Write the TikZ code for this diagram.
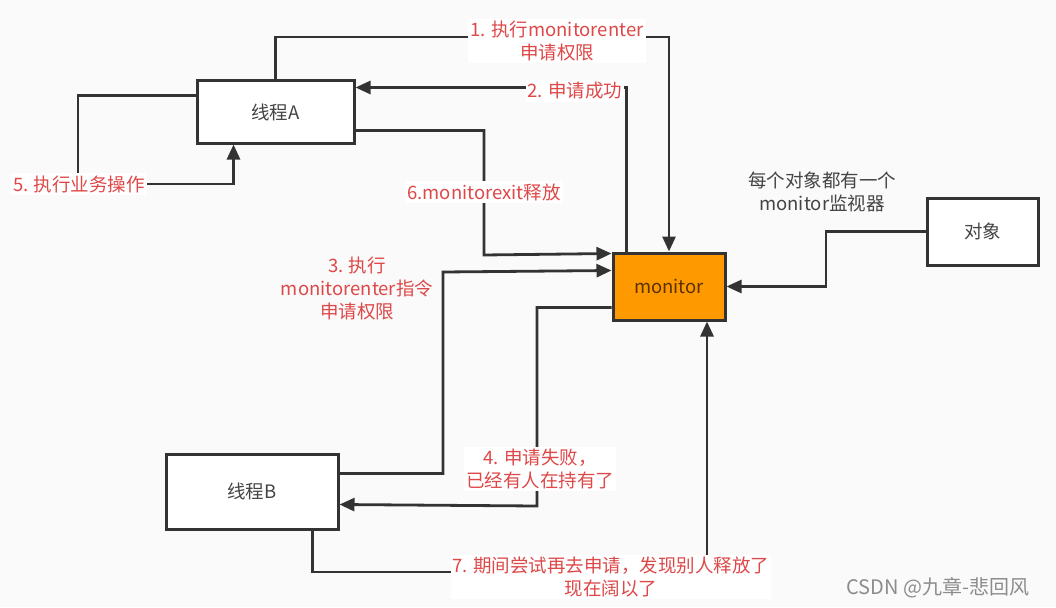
\documentclass[tikz,border=0pt]{standalone}
\usepackage{fontspec}
\setmainfont{Noto Sans CJK SC}
\usetikzlibrary{arrows.meta}
\definecolor{bg}{RGB}{250,250,250}
\definecolor{lred}{RGB}{222,72,72}
\definecolor{lineC}{RGB}{51,51,51}
\definecolor{boxtxt}{RGB}{68,68,68}
\definecolor{morange}{RGB}{255,153,0}
\definecolor{mtxt}{RGB}{90,50,0}
\definecolor{wm}{RGB}{140,140,140}
\tikzset{
  box/.style={draw=lineC,line width=3pt,fill=white,text=boxtxt,font=\fontsize{18.5}{22}\selectfont,inner sep=0pt},
  conn/.style={draw=lineC,line width=2.8pt,-{Triangle[length=15pt,width=13pt]}},
  lab/.style={text=lred,font=\fontsize{18.5}{23}\selectfont,align=center,inner sep=2pt},
  wlab/.style={lab,fill=white},
}
\begin{document}
\begin{tikzpicture}[x=1pt,y=-1pt]
\fill[bg] (0,0) rectangle (1056,607);
\useasboundingbox (0,0) rectangle (1056,607);
% nodes
\node[box,minimum width=157pt,minimum height=62pt] (A) at (275.5,112) {线程A};
\node[box,minimum width=172pt,minimum height=75pt] (B) at (252,491.5) {线程B};
\node[box,fill=morange,text=mtxt,minimum width=112pt,minimum height=67pt] (M) at (669,286.5) {monitor};
\node[box,minimum width=111pt,minimum height=67pt] (O) at (982.5,231.5) {对象};
% turning points
\coordinate (t1) at (669,37);
\coordinate (t6) at (484,255);
\coordinate (t5) at (78,184);
\coordinate (t3) at (443,272);
\coordinate (t4) at (537,506);
\coordinate (t7) at (707,572);
\coordinate (t8) at (826,259);
% connectors
\draw[conn] (A.north) |- (t1) -- (M.north);
\draw[conn] ([xshift=15pt]M.north west) |- ([yshift=-8pt]A.north east);
\draw[conn] ([yshift=14pt]A.south east) -| (t6) -- ([yshift=-2pt]M.north west);
\draw[conn] ([yshift=-16pt]A.north west) -| (t5) -| ([xshift=38pt]A.south west);
\draw[conn] ([yshift=-21pt]B.north east) -| (t3) -- ([yshift=-19pt]M.north west);
\draw[conn] ([yshift=14pt]M.south west) -| (t4) -- ([yshift=-52pt]B.north east);
\draw[conn] ([xshift=-27pt]B.south east) |- (t7) -- ([xshift=38pt]M.south);
\draw[conn] (O.west) -| (t8) |- (M.east);
% labels
\node[wlab] (l1) at (557,41) {1. 执行monitorenter\\申请权限};
\node[wlab] (l2) at (575,91) {2. 申请成功};
\node[wlab] (l6) at (484,192) {6.monitorexit释放};
\node[wlab] (l5) at (79,184) {5. 执行业务操作};
\node[lab] (l3) at (357,289) {3. 执行\\monitorenter指令\\申请权限};
\node[wlab] (l4) at (540,469) {4. 申请失败，\\已经有人在持有了};
\node[wlab] (l7) at (611,577) {7. 期间尝试再去申请，发现别人释放了\\现在阔以了};
\node[lab,text=boxtxt] (lo) at (822,192) {每个对象都有一个\\monitor监视器};
\node[text=wm,font=\fontsize{20}{22}\selectfont,inner sep=0pt] (wmk) at (938,588) {CSDN @九章-悲回风};
\end{tikzpicture}
\end{document}
